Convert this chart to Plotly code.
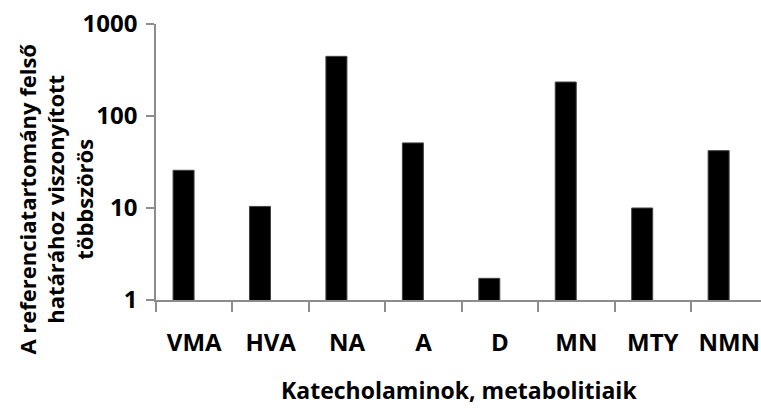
import plotly.graph_objects as go

categories = ["VMA", "HVA", "NA", "A", "D", "MN", "MTY", "NMN"]
values = [25.7, 10.4, 445, 51, 1.72, 234, 10, 42]
y_tick_vals = [1, 10, 100, 1000]
y_tick_text = ["1", "10", "100", "1000"]
y_title = "A referenciatartomány felső<br>határához viszonyított<br>többszörös"
x_title = "Katecholaminok, metabolitiaik"

W, H = 761, 409
L, R, T, B = 155.5, 0, 24, 109
pw, ph = W - L - R, H - T - B

FONT = "Open Sans"
def f(size):
    return dict(family=FONT, size=size, color="black", weight=700)

axis_col = "#8c8c8c"

fig = go.Figure(go.Bar(
    x=categories, y=values,
    width=0.275, offset=-0.277,
    marker=dict(color="black", line=dict(color="#444", width=1)),
))

fig.update_layout(
    width=W, height=H,
    margin=dict(l=L, r=R, t=T, b=B, pad=0),
    paper_bgcolor="white", plot_bgcolor="white",
    showlegend=False,
    font=f(24),
)
fig.update_xaxes(
    range=[-0.5, 7.415], automargin=False,
    showline=True, linecolor=axis_col, linewidth=1.5,
    ticks="outside", tickson="boundaries", ticklen=10, tickcolor=axis_col, tickwidth=1.5,
    showgrid=False, zeroline=False,
    tickfont=f(24), ticklabelstandoff=20,
)
fig.update_yaxes(
    type="log", range=[0, 3], automargin=False,
    tickvals=y_tick_vals, ticktext=y_tick_text,
    showline=True, linecolor=axis_col, linewidth=1.5,
    ticks="outside", ticklen=8, tickcolor=axis_col, tickwidth=1.5,
    showgrid=False, zeroline=False,
    tickfont=f(24), ticklabelstandoff=4,
)

fig.add_annotation(
    text=y_title, textangle=-90, showarrow=False,
    xref="paper", yref="paper",
    x=(55 - L) / pw, y=(T + ph - 199) / ph,
    xanchor="center", yanchor="middle",
    font=f(22),
)
fig.add_annotation(
    text=x_title, showarrow=False,
    xref="paper", yref="paper",
    x=(459 - L) / pw, y=(T + ph - 390) / ph,
    xanchor="center", yanchor="middle",
    font=f(23),
)

fig.write_html(
    "out.html",
    config={"displayModeBar": False},
    post_script="document.body.style.margin='0';document.body.style.overflow='hidden';",
)
